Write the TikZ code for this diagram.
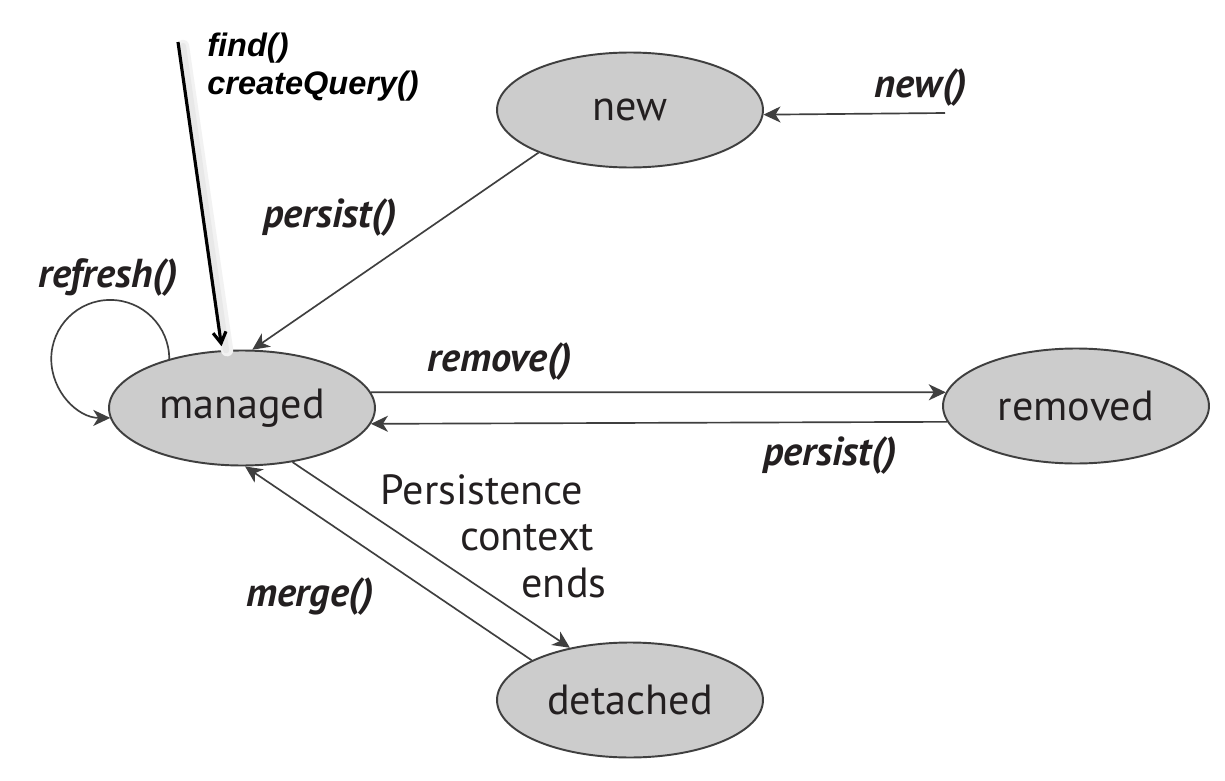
\documentclass[tikz,border=0pt]{standalone}
\usepackage{fontspec}
\setmainfont{PT Sans}
\newfontfamily\arialfont{Liberation Sans}
\usetikzlibrary{shapes.geometric,arrows.meta}
\definecolor{fillgray}{HTML}{CCCCCC}
\definecolor{edgegray}{HTML}{3F3F3F}
\definecolor{txt}{HTML}{231F20}
\begin{document}
\begin{tikzpicture}[x=0.02cm,y=-0.02cm,
  state/.style={ellipse, draw=edgegray, fill=fillgray, line width=1.1pt,
    minimum width=5.32cm, minimum height=2.3cm, inner sep=0pt,
    font=\fontsize{24}{28}\selectfont, text=txt},
  conn/.style={draw=edgegray, line width=0.95pt,
    -{Stealth[length=0.34cm,width=0.32cm,inset=0.1cm]}},
  lbl/.style={font=\fontsize{23}{27}\selectfont\bfseries\itshape, text=txt, inner sep=0pt},
  plain/.style={font=\fontsize{24}{28}\selectfont, text=txt, inner sep=0pt},
  qlbl/.style={font=\arialfont\fontsize{18.5}{21}\selectfont\bfseries\itshape, text=black, inner sep=0pt, anchor=west}]
\useasboundingbox (0,0) rectangle (1225,781);
\fill[white] (0,0) rectangle (1225,781);

% states
\node[state] (new) at (630,110) {new};
\node[state] (managed) at (242,408) {managed};
\node[state] (removed) at (1076,406) {removed};
\node[state] (detached) at (630,700) {detached};

% free ends
\coordinate (newsrc) at (945,113);
\coordinate (fqsrc) at (178,42);
\coordinate (fqshadow) at (183,46);

% find / createQuery arrow with soft shadow
\draw[line width=7pt, black!5, line cap=round] (fqshadow) -- ([xshift=5*0.02cm]managed.109);
\draw[line width=3.5pt, black!9, line cap=round] (fqshadow) -- ([xshift=4*0.02cm]managed.109);
\draw[line width=1.8pt, black, -{Straight Barb[length=0.22cm,width=0.26cm]}, shorten >=4*0.02cm] (fqsrc) -- (managed.109);
\node[qlbl] (find) at (207,48) {find()};
\node[qlbl] (cq) at (207,86) {createQuery()};

% new()
\draw[conn] (newsrc) -- (new.-2);
\node[lbl] (newlbl) at (921,88) {new()};

% new -> managed
\draw[conn] (new.205) -- (managed.80);
\node[lbl] (persist1) at (330,218) {persist()};

% refresh loop
\draw[conn] (managed.146) arc[start angle=0, end angle=270, radius=1.18cm] coordinate (loopend);
\node[lbl] (refresh) at (108,278) {refresh()};

% remove / persist
\draw[conn] (managed.7) -- (removed.174);
\node[lbl] (remove) at (500,362) {remove()};
\draw[conn] (removed.187.5) -- (managed.-7);
\node[lbl] (persist2) at (830,456) {persist()};

% managed <-> detached
\draw[conn] (managed.-47) -- (detached.139);
\draw[conn] (detached.158) -- (managed.-87);
\node[lbl] (merge) at (310,597) {merge()};
\node[plain] (p1) at (482,490) {Persistence};
\node[plain] (p2) at (527,538) {context};
\node[plain] (p3) at (564,583) {ends};
\end{tikzpicture}
\end{document}
